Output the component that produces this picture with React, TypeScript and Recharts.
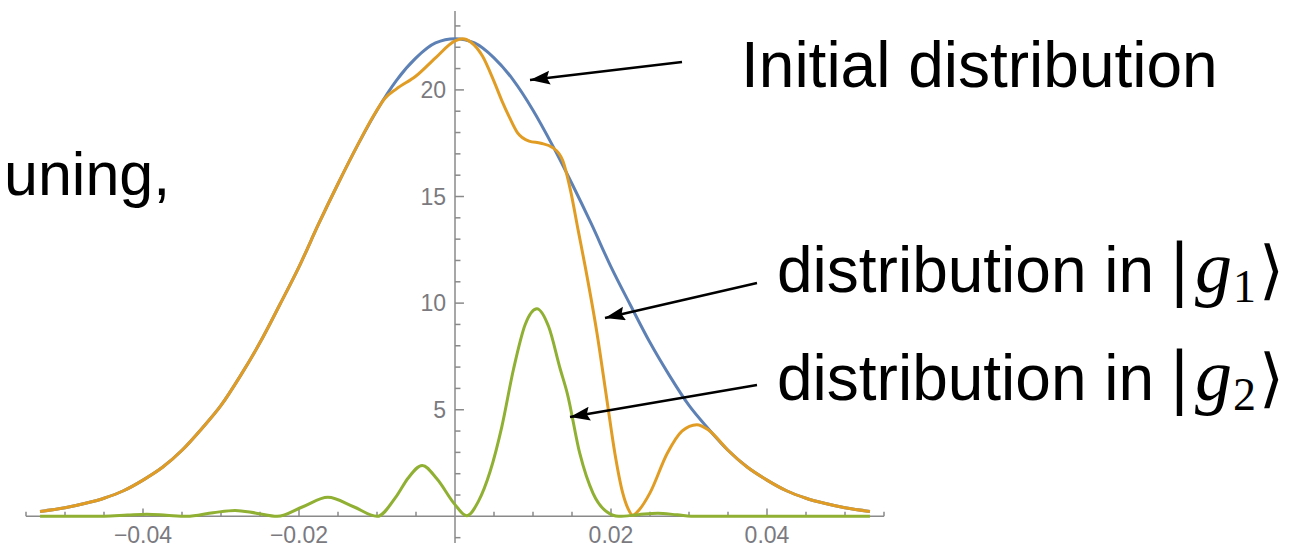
import React from "react";
import { ComposedChart, Line, XAxis, YAxis, ReferenceLine } from "recharts";

// initial distribution (blue)
const initialX = [
  -0.0532, -0.05, -0.0475, -0.045, -0.0425, -0.04, -0.0375, -0.035, -0.0325, -0.03, -0.0275,
  -0.025, -0.0225, -0.02, -0.0175, -0.015, -0.0125, -0.01, -0.0075, -0.005, -0.0025, 0,
  0.0025, 0.005, 0.0075, 0.01, 0.0125, 0.015, 0.0175, 0.02, 0.0225, 0.025, 0.0275, 0.03,
  0.0325, 0.035, 0.0375, 0.04, 0.0425, 0.045, 0.0475, 0.05, 0.0532,
];
const initialY = [
  0.23, 0.4, 0.6, 0.85, 1.2, 1.7, 2.3, 3.1, 4.1, 5.2, 6.6, 8.15, 9.9, 11.7, 13.7, 15.6, 17.4,
  19.05, 20.45, 21.5, 22.2, 22.4, 22.2, 21.5, 20.45, 19.05, 17.4, 15.6, 13.7, 11.7, 9.9, 8.15,
  6.6, 5.2, 4.1, 3.1, 2.3, 1.7, 1.2, 0.85, 0.6, 0.4, 0.23,
];

// distribution in |g1> (orange)
const g1X = [
  -0.0532, -0.05, -0.0475, -0.045, -0.0425, -0.04, -0.0375, -0.035, -0.0325, -0.03, -0.0275,
  -0.025, -0.0225, -0.02, -0.0175, -0.015, -0.0125, -0.0105, -0.009, -0.0075, -0.005, -0.0025,
  0, 0.001, 0.002, 0.0035, 0.005, 0.006, 0.007, 0.008, 0.0095, 0.011, 0.0125, 0.0138, 0.0148,
  0.0158, 0.0167, 0.0182, 0.0195, 0.0205, 0.0215, 0.0222, 0.0228, 0.0236, 0.025, 0.0272,
  0.0291, 0.031, 0.0325, 0.035, 0.0375, 0.04, 0.0425, 0.045, 0.0475, 0.05, 0.0532,
];
const g1Y = [
  0.23, 0.4, 0.6, 0.85, 1.2, 1.7, 2.3, 3.1, 4.1, 5.2, 6.6, 8.15, 9.9, 11.7, 13.7, 15.6, 17.4,
  18.75, 19.6, 20.05, 20.65, 21.5, 22.3, 22.4, 22.25, 21.6, 20.4, 19.5, 18.7, 18.0, 17.6, 17.5,
  17.3, 16.7, 15.3, 13.4, 11.7, 8.6, 5.4, 2.95, 1.1, 0.35, 0.05, 0.3, 1.1, 2.95, 4.0, 4.3, 4.05,
  3.1, 2.3, 1.7, 1.2, 0.85, 0.6, 0.4, 0.23,
];

// distribution in |g2> (green)
const g2X = [
  -0.0532, -0.045, -0.042, -0.0395, -0.037, -0.0344, -0.031, -0.0282, -0.0255, -0.0228,
  -0.0195, -0.0163, -0.013, -0.01, -0.0075, -0.006, -0.0042, -0.0023, 0, 0.0015, 0.003,
  0.0045, 0.006, 0.0075, 0.009, 0.0105, 0.012, 0.0135, 0.0144, 0.016, 0.0177, 0.0195, 0.021,
  0.0235, 0.026, 0.0285, 0.031, 0.0532,
];
const g2Y = [
  0, 0.01, 0.06, 0.1, 0.05, 0, 0.17, 0.28, 0.15, 0, 0.45, 0.89, 0.45, 0, 0.95, 1.8, 2.39, 1.75,
  0.55, 0.03, 0.7, 2.1, 4.2, 6.9, 9.0, 9.74, 8.9, 6.9, 5.76, 2.95, 1.08, 0.2, 0, 0.08, 0.15,
  0.07, 0, 0,
];

const xMajorTicks = [-0.04, -0.02, 0.02, 0.04];
const xMajorLabels = ["\u22120.04", "\u22120.02", "0.02", "0.04"];
const xMinorTicks = [
  -0.055, -0.05, -0.045, -0.035, -0.03, -0.025, -0.015, -0.01, -0.005, 0.005, 0.01, 0.015,
  0.025, 0.03, 0.035, 0.045, 0.05, 0.055,
];
const yMajorTicks = [5, 10, 15, 20];
const yMajorLabels = ["5", "10", "15", "20"];
const yMinorTicks = [-1, 1, 2, 3, 4, 6, 7, 8, 9, 11, 12, 13, 14, 16, 17, 18, 19, 21, 22, 23];

const BLUE = "#5E81B5";
const ORANGE = "#E19C24";
const GREEN = "#8FB032";
const AXIS = "#8a8a8a";
const TICK_TEXT = "#7a7a80";
const SANS = "'Liberation Sans', Arial, sans-serif";
const MATH = "'DejaVu Serif', serif";

const toPoints = (xs: number[], ys: number[]) => xs.map((x, i) => ({ x, y: ys[i] }));

const Ket = ({ sub }: { sub: string }) => (
  <>
    <tspan dx={14} fontFamily={MATH} fontSize={68}>|</tspan>
    <tspan dx={4} fontFamily="'Liberation Serif', serif" fontStyle="italic" fontSize={74}>g</tspan>
    <tspan dx={1} fontFamily="'Liberation Serif', serif" fontSize={46} dy={10}>{sub}</tspan>
    <tspan dx={3} fontFamily={MATH} fontSize={64} dy={-10}>{"\u27E9"}</tspan>
  </>
);

const App = () => {
  const initialData = toPoints(initialX, initialY);
  const g1Data = toPoints(g1X, g1Y);
  const g2Data = toPoints(g2X, g2Y);

  return (
    <div style={{ position: "absolute", left: 0, top: 0, width: 1306, height: 550, background: "#fff" }}>
      <ComposedChart width={1306} height={550} margin={{ top: 11, right: 422, bottom: 7, left: 26 }}>
        <XAxis dataKey="x" type="number" domain={[-0.055, 0.055]} allowDataOverflow hide />
        <YAxis type="number" domain={[-1.25, 23.7]} allowDataOverflow hide />

        <ReferenceLine y={0} stroke={AXIS} strokeWidth={1.5} ifOverflow="visible" />
        <ReferenceLine x={0} stroke={AXIS} strokeWidth={1.5} ifOverflow="visible" />

        {xMinorTicks.map((t) => (
          <ReferenceLine
            key={"xm" + t}
            segment={[{ x: t, y: 0 }, { x: t, y: 0.22 }]}
            stroke={AXIS}
            strokeWidth={1.5}
            ifOverflow="visible"
          />
        ))}
        {xMajorTicks.map((t, i) => (
          <ReferenceLine
            key={"xM" + t}
            segment={[{ x: t, y: 0 }, { x: t, y: 0.37 }]}
            stroke={AXIS}
            strokeWidth={1.5}
            ifOverflow="visible"
            label={{ value: xMajorLabels[i], position: "bottom", offset: 10, fill: TICK_TEXT, fontSize: 23, fontFamily: SANS }}
          />
        ))}
        {yMinorTicks.map((t) => (
          <ReferenceLine
            key={"ym" + t}
            segment={[{ x: 0, y: t }, { x: 0.0007, y: t }]}
            stroke={AXIS}
            strokeWidth={1.5}
            ifOverflow="visible"
          />
        ))}
        {yMajorTicks.map((t, i) => (
          <ReferenceLine
            key={"yM" + t}
            segment={[{ x: 0, y: t }, { x: 0.00115, y: t }]}
            stroke={AXIS}
            strokeWidth={1.5}
            ifOverflow="visible"
            label={{ value: yMajorLabels[i], position: "left", offset: 9, fill: TICK_TEXT, fontSize: 23, fontFamily: SANS }}
          />
        ))}

        <Line data={initialData} dataKey="y" type="monotone" stroke={BLUE} strokeWidth={3} dot={false} activeDot={false} isAnimationActive={false} />
        <Line data={g1Data} dataKey="y" type="monotone" stroke={ORANGE} strokeWidth={3} dot={false} activeDot={false} isAnimationActive={false} />
        <Line data={g2Data} dataKey="y" type="monotone" stroke={GREEN} strokeWidth={3} dot={false} activeDot={false} isAnimationActive={false} />
      </ComposedChart>

      <svg width={1306} height={550} style={{ position: "absolute", left: 0, top: 0, pointerEvents: "none" }}>
        <defs>
          <marker id="head" markerUnits="userSpaceOnUse" markerWidth={22} markerHeight={16} refX={20} refY={7} orient="auto">
            <path d="M0,0 L20,7 L0,14 L3,7 Z" fill="#000" />
          </marker>
        </defs>
        <line x1={682} y1={62} x2={530} y2={80} stroke="#000" strokeWidth={2.5} markerEnd="url(#head)" />
        <line x1={757} y1={283} x2={605} y2={318} stroke="#000" strokeWidth={2.5} markerEnd="url(#head)" />
        <line x1={757} y1={385} x2={570} y2={417} stroke="#000" strokeWidth={2.5} markerEnd="url(#head)" />

        <text x={4} y={195} fontFamily={SANS} fontSize={61} fill="#000">uning,</text>
        <text x={741} y={87} fontFamily={SANS} fontSize={64} fill="#000">Initial distribution</text>
        <text x={777} y={292} fontFamily={SANS} fontSize={64} fill="#000">
          distribution in
          <Ket sub="1" />
        </text>
        <text x={777} y={400} fontFamily={SANS} fontSize={64} fill="#000">
          distribution in
          <Ket sub="2" />
        </text>
      </svg>
    </div>
  );
};

export default App;
